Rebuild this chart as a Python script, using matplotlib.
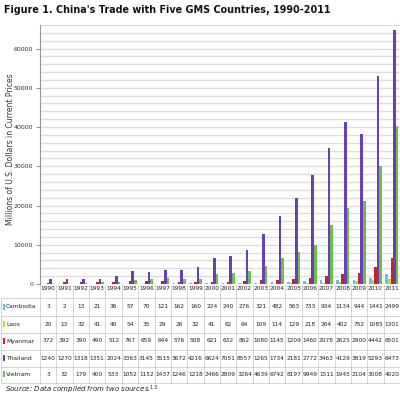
import matplotlib
matplotlib.use('Agg')
import matplotlib.pyplot as plt
import numpy as np

years = [str(y) for y in range(1990, 2012)]
countries = ['Cambodia', 'Laos', 'Myanmar', 'Thailand', 'Vietnam']
cambodia = [3, 2, 13, 21, 36, 57, 70, 121, 162, 160, 224, 240, 276, 321, 482, 563, 733, 934, 1134, 944, 1441, 2499]
laos = [20, 13, 32, 41, 40, 54, 35, 29, 26, 32, 41, 62, 64, 109, 114, 129, 218, 264, 402, 752, 1085, 1301]
myanmar = [372, 392, 390, 490, 512, 767, 659, 644, 576, 508, 621, 632, 862, 1080, 1145, 1209, 1460, 2078, 2625, 2900, 4442, 6501]
thailand = [1240, 1270, 1318, 1351, 2024, 3363, 3145, 3515, 3672, 4216, 6624, 7051, 8557, 12655, 17343, 21811, 27727, 34638, 41293, 38195, 52937, 64737]
vietnam = [3, 32, 179, 400, 533, 1052, 1152, 1437, 1246, 1218, 2466, 2809, 3264, 4639, 6742, 8197, 9949, 15115, 19450, 21045, 30086, 40207]
colors = ['#5cc6e6', '#e3cc1c', '#c8202f', '#6a3fb0', '#6cc04a']

series = [cambodia, laos, myanmar, thailand, vietnam]

W, H = 400, 398
fig = plt.figure(figsize=(W / 100, H / 100), dpi=100)
fig.patch.set_facecolor('white')

ax = fig.add_axes([40 / W, 1 - 284 / H, 360 / W, (284 - 25) / H])
x = np.arange(len(years))
bw = 0.16
for k, (vals, c) in enumerate(zip(series, colors)):
    ax.bar(x + (k - 2) * bw, vals, width=bw, color=c, zorder=3)

ax.set_xlim(-0.5, len(years) - 0.5)
ax.set_ylim(0, 66000)
ax.set_yticks(range(0, 66001, 10000))
ax.set_yticks(range(0, 66001, 2000), minor=True)
ax.yaxis.grid(True, which='both', color='#dcdcdc', linewidth=1, zorder=0)
ax.tick_params(axis='y', which='major', labelsize=4.5, labelcolor='#333333', length=3, color='#999999', pad=2)
ax.tick_params(axis='y', which='minor', length=0)
ax.set_xticks([])
for s in ['top', 'right', 'bottom']:
    ax.spines[s].set_visible(False)
ax.spines['left'].set_color('#999999')
ax.spines['left'].set_linewidth(0.8)
ax.set_ylabel('Millions of U.S. Dollars in Current Prices', fontsize=5.5, color='#333333')
ax.yaxis.set_label_coords(-0.07, 0.52)

# data table under the chart, drawn in pixel coordinates
tab_ax = fig.add_axes([0, 0, 1, 1], facecolor='none')
tab_ax.set_xlim(0, W)
tab_ax.set_ylim(H, 0)
tab_ax.axis('off')

row_y = [289, 307, 324, 341, 358, 374]
lines_y = [298, 315.5, 332.5, 349.5, 366.5, 383]
gc = '#cccccc'
for ly in lines_y:
    tab_ax.plot([1, W], [ly, ly], color=gc, lw=0.6)
x0 = 40
cw = 360 / len(years)
for i in range(len(years) + 1):
    tab_ax.plot([x0 + i * cw] * 2, [285, 383], color=gc, lw=0.6)
tab_ax.plot([1, 1], [298, 383], color=gc, lw=0.6)
for i, yr in enumerate(years):
    tab_ax.text(x0 + (i + 0.5) * cw, row_y[0], yr, fontsize=4.2, ha='center', va='center', color='#222222')
for r, (name, vals, c) in enumerate(zip(countries, series, colors)):
    yy = row_y[r + 1]
    tab_ax.add_patch(plt.Rectangle((3, yy - 3), 2, 6, color=c, lw=0))
    tab_ax.text(6, yy, name, fontsize=4.3, ha='left', va='center', color='#222222')
    for i, v in enumerate(vals):
        tab_ax.text(x0 + (i + 0.5) * cw, yy, str(v)[:4], fontsize=4.2, ha='center', va='center', color='#222222')

tab_ax.text(5, 390, 'Source: Data compiled from two sources.$^{13}$', fontsize=5, style='italic', ha='left', va='center', color='#222222')

tab_ax.text(4, 10, "Figure 1. China's Trade with Five GMS Countries, 1990-2011", fontsize=6.9, fontweight='bold', ha='left', va='center', color='#111111')

fig.savefig('out.png', dpi=100, facecolor='white')
